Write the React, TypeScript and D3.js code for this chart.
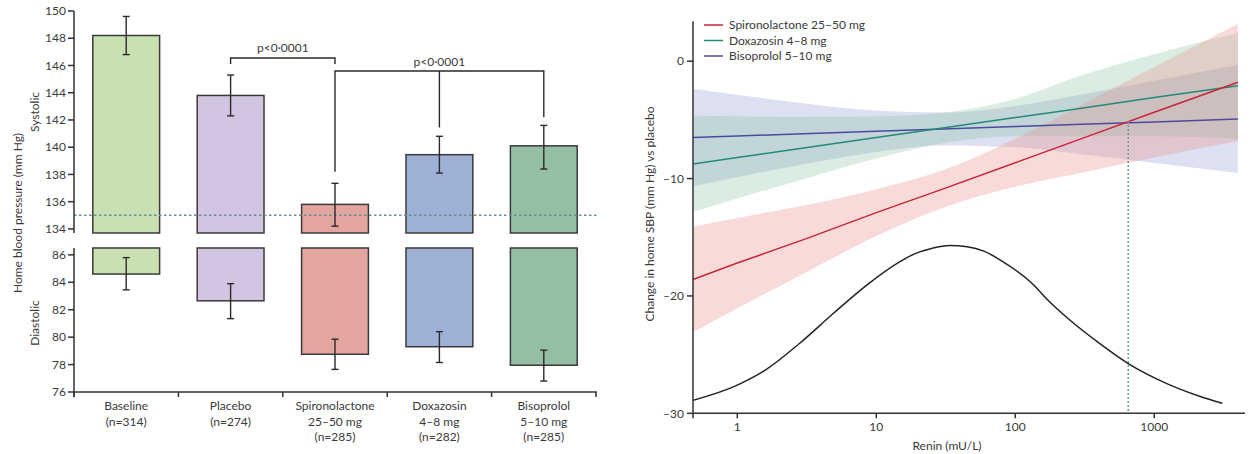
import React from 'react';
import * as d3 from 'd3';

// ---------- Left panel data ----------
const categories = ['Baseline', 'Placebo', 'Spironolactone', 'Doxazosin', 'Bisoprolol'];
const categoryLabels = [
  ['Baseline', '(n=314)'],
  ['Placebo', '(n=274)'],
  ['Spironolactone', '25–50 mg', '(n=285)'],
  ['Doxazosin', '4–8 mg', '(n=282)'],
  ['Bisoprolol', '5–10 mg', '(n=285)'],
];
const systolicMean = [148.2, 143.8, 135.8, 139.45, 140.1];
const systolicLow = [146.8, 142.3, 134.2, 138.1, 138.4];
const systolicHigh = [149.6, 145.3, 137.35, 140.8, 141.6];
const diastolicMean = [84.6, 82.65, 78.75, 79.3, 77.95];
const diastolicLow = [83.45, 81.35, 77.65, 78.15, 76.8];
const diastolicHigh = [85.8, 83.9, 79.85, 80.4, 79.05];
const barColors = ['#c9e0b3', '#d3c4e1', '#e2a59f', '#9fb0d7', '#94bfa5'];
const systolicTicks = [134, 136, 138, 140, 142, 144, 146, 148, 150];
const diastolicTicks = [76, 78, 80, 82, 84, 86];
const systolicTarget = 135;
const bracketOneCats = ['Placebo', 'Spironolactone'];
const bracketOneLevel = 146.55;
const bracketOneEnds = [146.1, 146.1];
const bracketTwoCats = ['Spironolactone', 'Doxazosin', 'Bisoprolol'];
const bracketTwoLevel = 145.6;
const bracketTwoEnds = [138.2, 141.45, 142.2];
const pLabel = 'p<0·0001';

// ---------- Right panel data ----------
const reninSamples = [0.48, 1, 3, 10, 30, 100, 300, 1000, 4000];
const spiroFit = [-18.6, -17.2, -15.2, -12.9, -10.9, -8.65, -6.6, -4.35, -1.8];
const spiroUpper = [-14.1, -13.35, -12.3, -10.9, -9.3, -6.6, -3.7, -0.5, 3.2];
const spiroLower = [-23.1, -21.05, -18.1, -14.9, -12.5, -10.7, -9.5, -8.2, -6.8];
const doxaFit = [-8.75, -8.2, -7.4, -6.5, -5.7, -4.8, -4.0, -3.1, -2.1];
const doxaUpper = [-4.65, -4.7, -4.75, -4.7, -4.4, -3.2, -1.2, 0.6, 2.4];
const doxaLower = [-12.85, -11.7, -10.05, -8.3, -7.0, -6.4, -6.4, -6.4, -6.6];
const bisoFit = [-6.5, -6.37, -6.18, -5.97, -5.78, -5.57, -5.38, -5.17, -4.93];
const bisoUpper = [-2.35, -2.86, -3.58, -4.21, -4.38, -3.81, -2.83, -1.66, -0.33];
const bisoLower = [-10.65, -9.88, -8.78, -7.73, -7.18, -7.33, -7.93, -8.68, -9.53];
const densityRenin = [0.48, 1, 1.6, 2.8, 4.9, 8.5, 14.7, 19.4, 25, 33.7, 45, 60, 77, 134, 170, 233, 404, 646, 1220, 2120, 3090];
const densityValue = [-28.9, -27.6, -26.3, -24.05, -21.5, -19.1, -17.1, -16.35, -15.95, -15.7, -15.8, -16.2, -16.9, -19.0, -20.3, -21.8, -24.05, -25.75, -27.45, -28.55, -29.15];
const crossRenin = 650;
const crossValue = -5.1;
const rightXTicks = [1, 10, 100, 1000];
const rightYTicks = [0, -10, -20, -30];
const seriesNames = ['Spironolactone 25–50 mg', 'Doxazosin 4–8 mg', 'Bisoprolol 5–10 mg'];
const seriesLineColors = ['#c8243c', '#228a76', '#4b4b9e'];
const seriesBandColors = ['#e9908a', '#7fbf9a', '#8f98d0'];
const seriesBandOpacity = [0.32, 0.28, 0.3];

const FONT = 'Lato, "Open Sans", sans-serif';
const TXT = '#3a3a3a';

export default function App() {
  const xBand = d3.scaleBand<string>().domain(categories).range([74, 596]).paddingInner(0.36).paddingOuter(0.18);
  const ySys = d3.scaleLinear().domain([133.7, 150]).range([233, 11]);
  const yDia = d3.scaleLinear().domain([76, 86.5]).range([392, 248]);
  const step = xBand.step();
  const bw = xBand.bandwidth();
  const cx = (c: string) => (xBand(c) as number) + bw / 2;
  const [x0, x1] = xBand.range();

  const xR = d3.scaleLog().domain([0.48, 4500]).range([693, 1245]);
  const yR = d3.scaleLinear().domain([-30, 3.4]).range([413.3, 21.3]);

  const fits = [spiroFit, doxaFit, bisoFit];
  const uppers = [spiroUpper, doxaUpper, bisoUpper];
  const lowers = [spiroLower, doxaLower, bisoLower];

  const idx = reninSamples.map((_, i) => i);
  const bandPath = (s: number) =>
    d3
      .area<number>()
      .x((i) => xR(reninSamples[i]))
      .y0((i) => yR(lowers[s][i]))
      .y1((i) => yR(uppers[s][i]))
      .curve(d3.curveMonotoneX)(idx) as string;
  const fitLine = (arr: number[]) =>
    d3
      .line<number>()
      .x((i) => xR(reninSamples[i]))
      .y((i) => yR(arr[i]))(idx) as string;
  const densityLine = d3
    .line<number>()
    .x((i) => xR(densityRenin[i]))
    .y((i) => yR(densityValue[i]))
    .curve(d3.curveMonotoneX)(densityRenin.map((_, i) => i)) as string;

  const bandOrder = [2, 1, 0];
  const sepTicks = d3.range(categories.length + 1).map((i) => x0 + i * step);

  const b1x = bracketOneCats.map(cx);
  const b1 = `M${b1x[0]},${ySys(bracketOneEnds[0])}V${ySys(bracketOneLevel)}H${b1x[1]}V${ySys(bracketOneEnds[1])}`;
  const b2x = bracketTwoCats.map(cx);
  const b2 =
    `M${b2x[0]},${ySys(bracketTwoEnds[0])}V${ySys(bracketTwoLevel)}H${b2x[2]}V${ySys(bracketTwoEnds[2])}` +
    `M${b2x[1]},${ySys(bracketTwoLevel)}V${ySys(bracketTwoEnds[1])}`;

  return (
    <svg
      width={1255}
      height={454}
      style={{ position: 'absolute', left: 0, top: 0, background: '#fff' }}
      fontFamily={FONT}
    >
      {/* ================= LEFT PANEL ================= */}
      {categories.map((c, i) => (
        <g key={'s' + c}>
          <rect
            x={xBand(c)}
            y={ySys(systolicMean[i])}
            width={bw}
            height={ySys(133.7) - ySys(systolicMean[i])}
            fill={barColors[i]}
            stroke="#3a3a3a"
            strokeWidth={1.5}
          />
          <rect
            x={xBand(c)}
            y={yDia(86.5)}
            width={bw}
            height={yDia(diastolicMean[i]) - yDia(86.5)}
            fill={barColors[i]}
            stroke="#3a3a3a"
            strokeWidth={1.5}
          />
        </g>
      ))}
      <line
        x1={x0}
        x2={x1 + 1}
        y1={ySys(systolicTarget)}
        y2={ySys(systolicTarget)}
        stroke="#6a8d96"
        strokeWidth={1.5}
        strokeDasharray="2.5,2.5"
      />
      {categories.map((c, i) => {
        const x = cx(c);
        return (
          <g key={'e' + c} stroke="#2a2a2a" strokeWidth={1.4}>
            <line x1={x} x2={x} y1={ySys(systolicHigh[i])} y2={ySys(systolicLow[i])} />
            <line x1={x - 3.5} x2={x + 3.5} y1={ySys(systolicHigh[i])} y2={ySys(systolicHigh[i])} />
            <line x1={x - 3.5} x2={x + 3.5} y1={ySys(systolicLow[i])} y2={ySys(systolicLow[i])} />
            <line x1={x} x2={x} y1={yDia(diastolicHigh[i])} y2={yDia(diastolicLow[i])} />
            <line x1={x - 3.5} x2={x + 3.5} y1={yDia(diastolicHigh[i])} y2={yDia(diastolicHigh[i])} />
            <line x1={x - 3.5} x2={x + 3.5} y1={yDia(diastolicLow[i])} y2={yDia(diastolicLow[i])} />
          </g>
        );
      })}
      <path d={b1} fill="none" stroke="#2a2a2a" strokeWidth={1.4} />
      <path d={b2} fill="none" stroke="#2a2a2a" strokeWidth={1.4} />
      <text x={(b1x[0] + b1x[1]) / 2} y={ySys(bracketOneLevel) - 10} dy="0.35em" textAnchor="middle" fontSize={12} fill={TXT}>
        {pLabel}
      </text>
      <text x={(b2x[0] + b2x[2]) / 2} y={ySys(bracketTwoLevel) - 9.5} dy="0.35em" textAnchor="middle" fontSize={12} fill={TXT}>
        {pLabel}
      </text>
      <g stroke="#333" strokeWidth={1.5}>
        <line x1={x0} x2={x0} y1={ySys(150)} y2={ySys(133.7)} />
        <line x1={x0} x2={x0} y1={yDia(86.5)} y2={yDia(76) + 5} />
        <line x1={x0} x2={x1 + 1} y1={yDia(76)} y2={yDia(76)} />
        {systolicTicks.map((t) => (
          <line key={'st' + t} x1={x0 - 6} x2={x0} y1={ySys(t)} y2={ySys(t)} />
        ))}
        {diastolicTicks.map((t) => (
          <line key={'dt' + t} x1={x0 - 6} x2={x0} y1={yDia(t)} y2={yDia(t)} />
        ))}
        {sepTicks.map((t, i) => (
          <line key={'sep' + i} x1={t} x2={t} y1={yDia(76)} y2={yDia(76) + 5} />
        ))}
      </g>
      {systolicTicks.map((t) => (
        <text key={'stl' + t} x={x0 - 8} y={ySys(t)} dy="0.35em" textAnchor="end" fontSize={12} fill={TXT}>
          {t}
        </text>
      ))}
      {diastolicTicks.map((t) => (
        <text key={'dtl' + t} x={x0 - 8} y={yDia(t)} dy="0.35em" textAnchor="end" fontSize={12} fill={TXT}>
          {t}
        </text>
      ))}
      {categories.map((c, i) => (
        <text key={'cl' + c} x={cx(c)} textAnchor="middle" fontSize={12} fill={TXT}>
          {categoryLabels[i].map((l, j) => (
            <tspan key={j} x={cx(c)} y={410 + j * 15.5}>
              {l}
            </tspan>
          ))}
        </text>
      ))}
      <text transform="translate(18,213) rotate(-90)" dy="0.35em" textAnchor="middle" fontSize={12} fill={TXT}>
        Home blood pressure (mm Hg)
      </text>
      <text transform="translate(35,112) rotate(-90)" dy="0.35em" textAnchor="middle" fontSize={12} fill={TXT}>
        Systolic
      </text>
      <text transform="translate(35,323) rotate(-90)" dy="0.35em" textAnchor="middle" fontSize={12} fill={TXT}>
        Diastolic
      </text>

      {/* ================= RIGHT PANEL ================= */}
      {bandOrder.map((s) => (
        <path key={'band' + s} d={bandPath(s)} fill={seriesBandColors[s]} fillOpacity={seriesBandOpacity[s]} stroke="none" />
      ))}
      {bandOrder.map((s) => (
        <path key={'fit' + s} d={fitLine(fits[s])} fill="none" stroke={seriesLineColors[s]} strokeWidth={1.5} />
      ))}
      <line
        x1={xR(crossRenin)}
        x2={xR(crossRenin)}
        y1={yR(crossValue)}
        y2={yR(-30)}
        stroke="#6f949a"
        strokeWidth={1.5}
        strokeDasharray="2,2"
      />
      <path d={densityLine} fill="none" stroke="#222" strokeWidth={1.5} />
      <g stroke="#333" strokeWidth={1.5}>
        <line x1={693} x2={693} y1={yR(3.4)} y2={yR(-30) + 5} />
        <line x1={693} x2={1245} y1={yR(-30)} y2={yR(-30)} />
        {rightYTicks.map((t) => (
          <line key={'ryt' + t} x1={687} x2={693} y1={yR(t)} y2={yR(t)} />
        ))}
        {rightXTicks.map((t) => (
          <line key={'rxt' + t} x1={xR(t)} x2={xR(t)} y1={yR(-30)} y2={yR(-30) + 5} />
        ))}
      </g>
      {rightYTicks.map((t) => (
        <text key={'rytl' + t} x={684} y={yR(t)} dy="0.35em" textAnchor="end" fontSize={12} fill={TXT}>
          {t < 0 ? '–' + Math.abs(t) : t}
        </text>
      ))}
      {rightXTicks.map((t) => (
        <text key={'rxtl' + t} x={xR(t)} y={431} textAnchor="middle" fontSize={12} fill={TXT}>
          {t}
        </text>
      ))}
      <text x={947} y={450} textAnchor="middle" fontSize={12} fill={TXT}>
        Renin (mU/L)
      </text>
      <text transform="translate(650,214) rotate(-90)" dy="0.35em" textAnchor="middle" fontSize={12} fill={TXT}>
        Change in home SBP (mm Hg) vs placebo
      </text>
      {seriesNames.map((n, i) => (
        <g key={'leg' + i}>
          <line x1={704} x2={723} y1={25 + i * 15.5} y2={25 + i * 15.5} stroke={seriesLineColors[i]} strokeWidth={1.5} />
          <text x={729} y={25 + i * 15.5} dy="0.35em" fontSize={12} fill={TXT}>
            {n}
          </text>
        </g>
      ))}
    </svg>
  );
}
